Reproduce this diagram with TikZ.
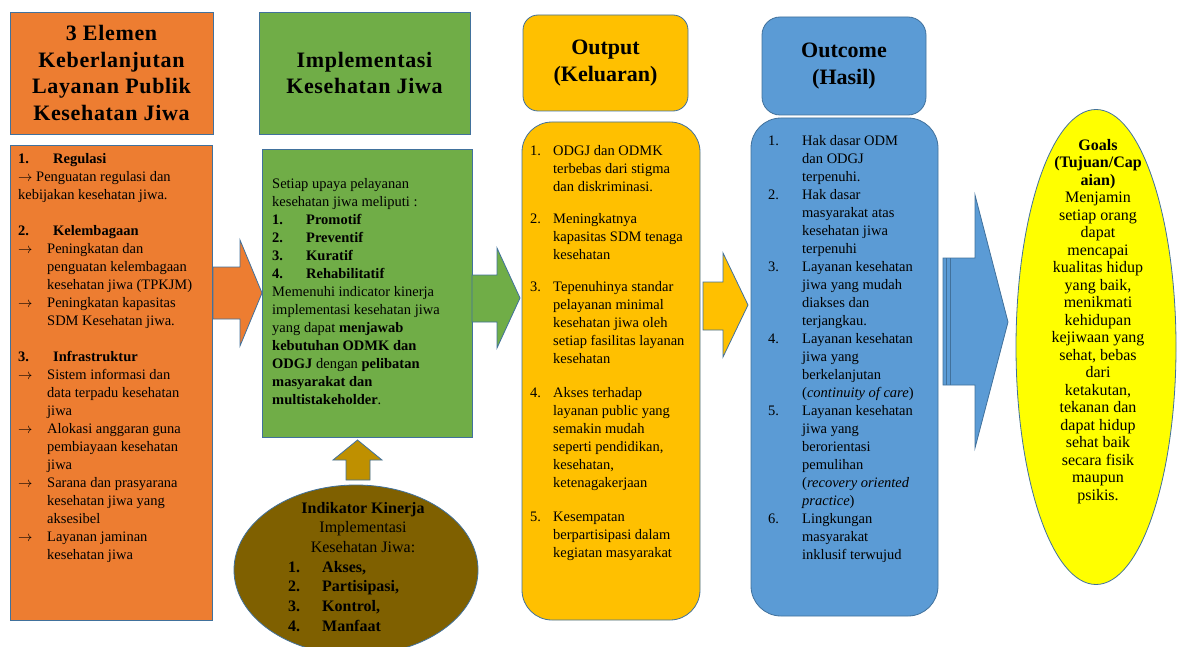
\documentclass[tikz,border=0pt]{standalone}
\usepackage{fontspec}
\setmainfont{Liberation Serif}
\usetikzlibrary{shapes.geometric}

\definecolor{outl}{HTML}{41719C}
\definecolor{orfill}{HTML}{ED7D31}
\definecolor{grfill}{HTML}{70AD47}
\definecolor{yefill}{HTML}{FFC000}
\definecolor{blfill}{HTML}{5B9BD5}
\definecolor{gofill}{HTML}{FFFF00}
\definecolor{brfill}{HTML}{7F6000}
\definecolor{uparfill}{HTML}{BF9000}

\newcommand{\arw}{\makebox[29pt][l]{$\rightarrow$}}
\newcommand{\indt}{\hspace*{29pt}}
\newcommand{\numi}[2]{\makebox[#1][l]{#2}}

\begin{document}
\begin{tikzpicture}[x=1pt,y=-1pt,
    box/.style={draw=outl, line width=0.8pt, inner sep=0pt},
    headtxt/.style={font=\fontsize{22}{26.7}\selectfont\bfseries, align=center},
    widehead/.style={headtxt, font=\fontsize{22}{26.7}\selectfont\bfseries\addfontfeatures{LetterSpace=3}},
    bodytxt/.style={font=\fontsize{14.5}{18}\selectfont, align=left, inner sep=0pt, anchor=north west},
    blockarrow/.style={draw=outl, line width=0.8pt}]
  \useasboundingbox (0,0) rectangle (1177,647);

  % column headers
  \node[box, fill=orfill, minimum width=203, minimum height=122, widehead] (elhead) at (111.5,73)
    {3 Elemen\\Keberlanjutan\\Layanan Publik\\Kesehatan Jiwa};
  \node[box, fill=grfill, minimum width=211, minimum height=122, widehead] (imphead) at (364.5,73)
    {Implementasi\\Kesehatan Jiwa};
  \node[box, fill=yefill, rounded corners=15, minimum width=165, minimum height=96, headtxt] (outhead) at (605.5,63)
    {Output\\(Keluaran)};
  \node[box, fill=blfill, rounded corners=18, minimum width=164, minimum height=98, headtxt] (ochead) at (844,66)
    {Outcome\\(Hasil)};

  % column bodies
  \node[box, fill=orfill, minimum width=202, minimum height=475] (elbody) at (111,382.5) {};
  \node[box, fill=grfill, minimum width=210, minimum height=288] (impbody) at (367,293) {};
  \node[box, fill=yefill, rounded corners=30, minimum width=178, minimum height=498] (outbody) at (611,371) {};
  \node[box, fill=blfill, rounded corners=30, minimum width=187, minimum height=498] (ocbody) at (844.5,367) {};

  % goals and indicators
  \node[box, ellipse, fill=gofill, minimum width=160, minimum height=475] (goals) at (1096,347) {};
  \node[box, ellipse, fill=brfill, minimum width=244, minimum height=170] (indik) at (356,570) {};

  % block arrows
  \draw[blockarrow, fill=orfill] (213,267) -- (240,267) -- (240,240) -- (262,293)
    -- (240,346) -- (240,319) -- (213,319) -- cycle;
  \draw[blockarrow, fill=grfill] (472,275) -- (497,275) -- (497,248) -- (520,298)
    -- (497,348) -- (497,322) -- (472,322) -- cycle;
  \draw[blockarrow, fill=yefill] (703,282) -- (723,282) -- (723,253) -- (748,305)
    -- (723,357) -- (723,330) -- (703,330) -- cycle;
  \draw[blockarrow, fill=blfill] (943,258) -- (975,258) -- (975,195) -- (1008,322)
    -- (975,448) -- (975,385) -- (943,385) -- cycle;
  \foreach \sx in {946.5,950} \draw[outl, line width=0.8pt] (\sx,258) -- (\sx,385);
  \draw[blockarrow, fill=uparfill] (346,480) -- (346,460) -- (333,460) -- (357.5,440)
    -- (382,460) -- (370,460) -- (370,480) -- cycle;

  % texts
  \node[bodytxt] (eltxt) at (18,153) {%
    \numi{35pt}{\textbf{1.}}\textbf{Regulasi}\\
    $\rightarrow$ Penguatan regulasi dan\\
    kebijakan kesehatan jiwa.\\[18pt]
    \numi{35pt}{\textbf{2.}}\textbf{Kelembagaan}\\
    \arw Peningkatan dan\\
    \indt penguatan kelembagaan\\
    \indt kesehatan jiwa (TPKJM)\\
    \arw Peningkatan kapasitas\\
    \indt SDM Kesehatan jiwa.\\[18pt]
    \numi{35pt}{\textbf{3.}}\textbf{Infrastruktur}\\
    \arw Sistem informasi dan\\
    \indt data terpadu kesehatan\\
    \indt jiwa\\
    \arw Alokasi anggaran guna\\
    \indt pembiayaan kesehatan\\
    \indt jiwa\\
    \arw Sarana dan prasyarana\\
    \indt kesehatan jiwa yang\\
    \indt aksesibel\\
    \arw Layanan jaminan\\
    \indt kesehatan jiwa};

  \node[bodytxt] (imptxt) at (272,178) {%
    Setiap upaya pelayanan\\
    kesehatan jiwa meliputi :\\
    \numi{34pt}{\textbf{1.}}\textbf{Promotif}\\
    \numi{34pt}{\textbf{2.}}\textbf{Preventif}\\
    \numi{34pt}{\textbf{3.}}\textbf{Kuratif}\\
    \numi{34pt}{\textbf{4.}}\textbf{Rehabilitatif}\\
    Memenuhi indicator kinerja\\
    implementasi kesehatan jiwa\\
    yang dapat \textbf{menjawab}\\
    \textbf{kebutuhan ODMK dan}\\
    \textbf{ODGJ} dengan \textbf{pelibatan}\\
    \textbf{masyarakat dan}\\
    \textbf{multistakeholder}.};

  \node[bodytxt] (outtxt) at (530,145) {%
    \numi{23pt}{1.}ODGJ dan ODMK\\
    \numi{23pt}{}terbebas dari stigma\\
    \numi{23pt}{}dan diskriminasi.\\[14pt]
    \numi{23pt}{2.}Meningkatnya\\
    \numi{23pt}{}kapasitas SDM tenaga\\
    \numi{23pt}{}kesehatan\\[14pt]
    \numi{23pt}{3.}Tepenuhinya standar\\
    \numi{23pt}{}pelayanan minimal\\
    \numi{23pt}{}kesehatan jiwa oleh\\
    \numi{23pt}{}setiap fasilitas layanan\\
    \numi{23pt}{}kesehatan\\[16pt]
    \numi{23pt}{4.}Akses terhadap\\
    \numi{23pt}{}layanan public yang\\
    \numi{23pt}{}semakin mudah\\
    \numi{23pt}{}seperti pendidikan,\\
    \numi{23pt}{}kesehatan,\\
    \numi{23pt}{}ketenagakerjaan\\[16pt]
    \numi{23pt}{5.}Kesempatan\\
    \numi{23pt}{}berpartisipasi dalam\\
    \numi{23pt}{}kegiatan masyarakat};

  \node[bodytxt] (octxt) at (768,135) {%
    \numi{34pt}{1.}Hak dasar ODM\\
    \numi{34pt}{}dan ODGJ\\
    \numi{34pt}{}terpenuhi.\\
    \numi{34pt}{2.}Hak dasar\\
    \numi{34pt}{}masyarakat atas\\
    \numi{34pt}{}kesehatan jiwa\\
    \numi{34pt}{}terpenuhi\\
    \numi{34pt}{3.}Layanan kesehatan\\
    \numi{34pt}{}jiwa yang mudah\\
    \numi{34pt}{}diakses dan\\
    \numi{34pt}{}terjangkau.\\
    \numi{34pt}{4.}Layanan kesehatan\\
    \numi{34pt}{}jiwa yang\\
    \numi{34pt}{}berkelanjutan\\
    \numi{34pt}{}(\textit{continuity of care})\\
    \numi{34pt}{5.}Layanan kesehatan\\
    \numi{34pt}{}jiwa yang\\
    \numi{34pt}{}berorientasi\\
    \numi{34pt}{}pemulihan\\
    \numi{34pt}{}(\textit{recovery oriented}\\
    \numi{34pt}{}\textit{practice})\\
    \numi{34pt}{6.}Lingkungan\\
    \numi{34pt}{}masyarakat\\
    \numi{34pt}{}inklusif terwujud};

  \node[inner sep=0pt, anchor=north, align=center, font=\fontsize{16}{17.5}\selectfont] (goaltxt) at (1098,139) {%
    \textbf{Goals}\\
    \textbf{(Tujuan/Cap}\\
    \textbf{aian)}\\
    Menjamin\\
    setiap orang\\
    dapat\\
    mencapai\\
    kualitas hidup\\
    yang baik,\\
    menikmati\\
    kehidupan\\
    kejiwaan yang\\
    sehat, bebas\\
    dari\\
    ketakutan,\\
    tekanan dan\\
    dapat hidup\\
    sehat baik\\
    secara fisik\\
    maupun\\
    psikis.};

  \node[inner sep=0pt, anchor=north, align=center, font=\fontsize{16}{19.6}\selectfont] (indhead) at (363,502) {%
    \textbf{Indikator Kinerja}\\
    Implementasi\\
    Kesehatan Jiwa:};
  \node[inner sep=0pt, anchor=north west, align=left, font=\fontsize{16}{19.6}\selectfont\bfseries] (indlist) at (288,561) {%
    \numi{34pt}{1.}Akses,\\
    \numi{34pt}{2.}Partisipasi,\\
    \numi{34pt}{3.}Kontrol,\\
    \numi{34pt}{4.}Manfaat};
\end{tikzpicture}
\end{document}
